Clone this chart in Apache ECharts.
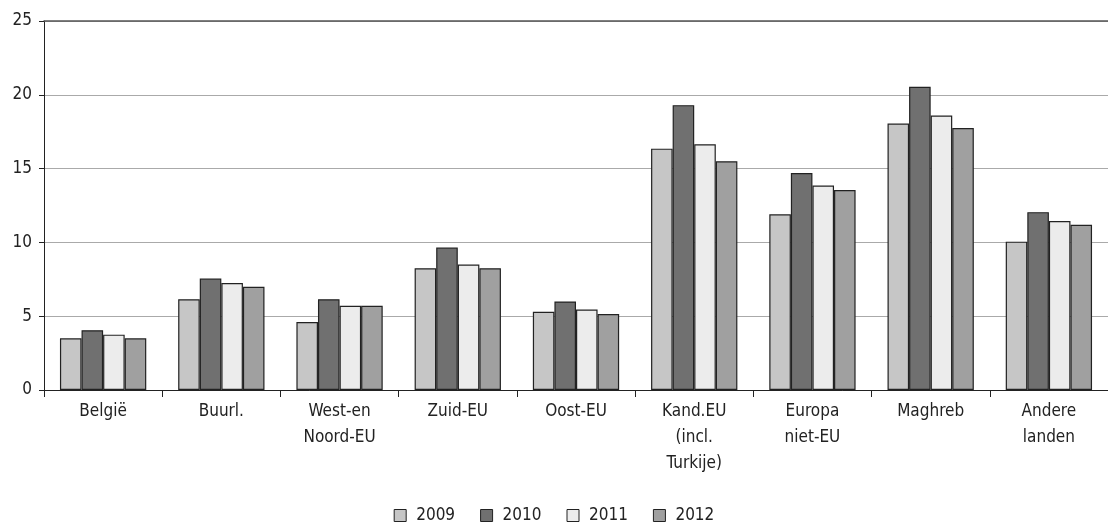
<!DOCTYPE html>
<html>
<head>
<meta charset="utf-8">
<script src="https://cdn.jsdelivr.net/npm/echarts@6/dist/echarts.min.js"></script>
<style>html,body{margin:0;padding:0;background:#fff}#c{width:1108px;height:530px}</style>
</head>
<body>
<div id="c"></div>
<script>
var categories = ['België', 'Buurl.', 'West-en\nNoord-EU', 'Zuid-EU', 'Oost-EU', 'Kand.EU\n(incl.\nTurkije)', 'Europa\nniet-EU', 'Maghreb', 'Andere\nlanden'];
var years = ['2009', '2010', '2011', '2012'];
var v2009 = [3.5, 6.15, 4.6, 8.25, 5.3, 16.35, 11.9, 18.05, 10.05];
var v2010 = [4.05, 7.55, 6.15, 9.65, 6.0, 19.3, 14.7, 20.55, 12.05];
var v2011 = [3.75, 7.25, 5.7, 8.5, 5.45, 16.65, 13.85, 18.6, 11.45];
var v2012 = [3.5, 7.0, 5.7, 8.25, 5.15, 15.5, 13.55, 17.75, 11.2];
var yTicks = [0, 5, 10, 15, 20, 25];

var colors = ['#c6c6c6', '#707070', '#ececec', '#a0a0a0'];
var font = 'DejaVu Sans Condensed';
var allValues = [v2009, v2010, v2011, v2012];
var series = years.map(function (y, i) {
  return {
    name: y, type: 'bar', data: allValues[i],
    barGap: '0%', barCategoryGap: '27%',
    itemStyle: { color: colors[i], borderColor: '#222', borderWidth: 1.2 }
  };
});

var chart = echarts.init(document.getElementById('c'));
chart.setOption({
  animation: false,
  textStyle: { fontFamily: font },
  grid: { left: 44, right: 0, top: 21, bottom: 140 },
  legend: {
    bottom: 1, left: 'center', itemWidth: 12, itemHeight: 12, itemGap: 25,
    icon: 'rect',
    textStyle: { fontSize: 17, color: '#222', fontFamily: font, padding: [0, 0, 0, 5] },
    itemStyle: { borderColor: '#222', borderWidth: 1 },
    data: years
  },
  xAxis: [{
    type: 'category', data: categories,
    axisLine: { lineStyle: { color: '#222', width: 1 } },
    axisTick: { show: true, length: 7, lineStyle: { color: '#222' } },
    axisLabel: { fontSize: 17, color: '#222', lineHeight: 26, margin: 9, interval: 0 }
  }, {
    type: 'category', data: categories, position: 'top',
    axisLine: { show: true, lineStyle: { color: '#555', width: 1.5 } },
    axisTick: { show: false }, axisLabel: { show: false }
  }],
  yAxis: {
    type: 'value', min: yTicks[0], max: yTicks[yTicks.length - 1], interval: 5,
    axisLine: { show: true, lineStyle: { color: '#222' } },
    axisTick: { show: true, length: 5, lineStyle: { color: '#222' } },
    axisLabel: { fontSize: 17, color: '#222', margin: 12 },
    splitLine: { lineStyle: { color: '#aaa', width: 1 } }
  },
  series: series
});
</script>
</body>
</html>
